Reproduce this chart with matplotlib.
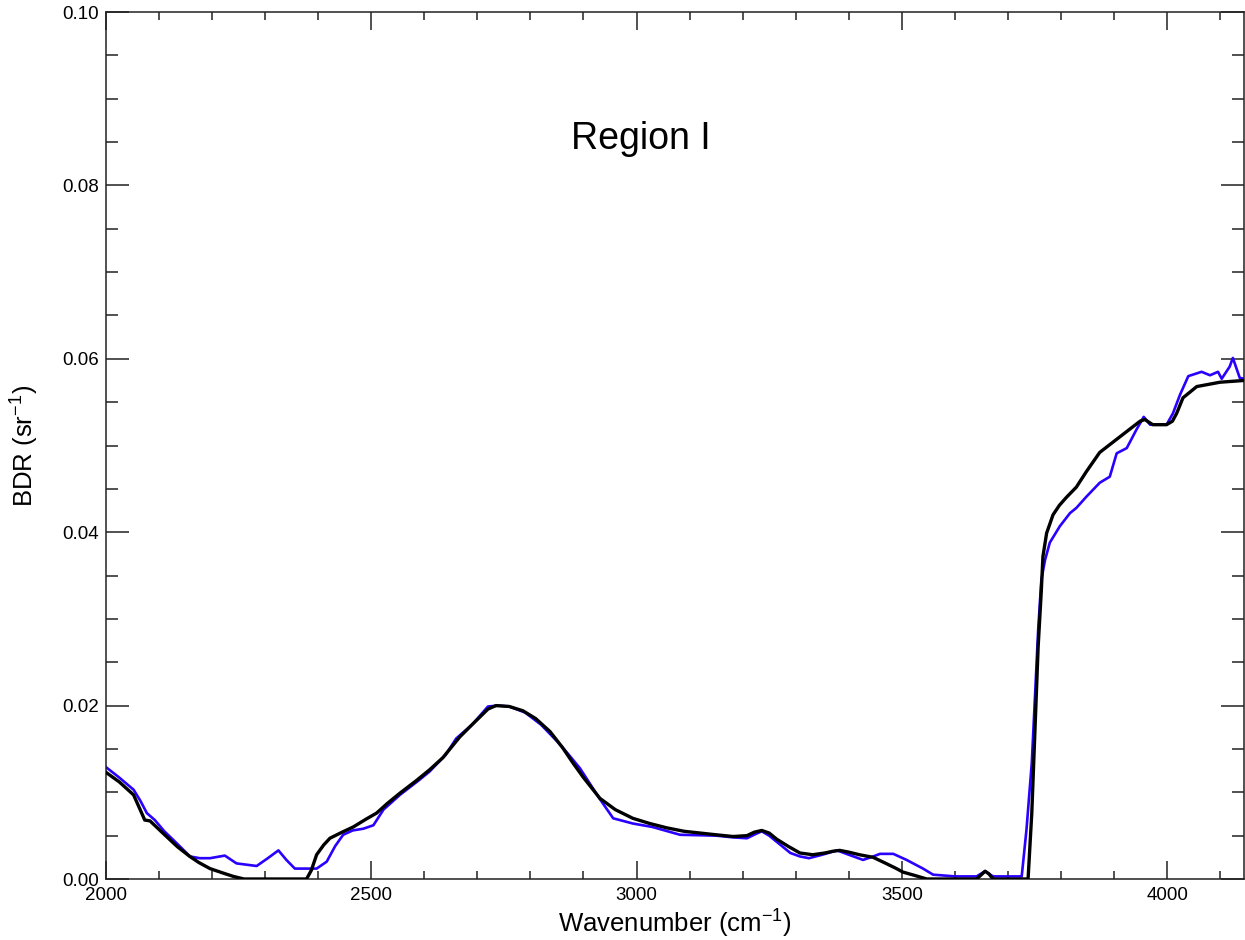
import matplotlib
matplotlib.use('Agg')
import matplotlib.pyplot as plt
from matplotlib.ticker import MultipleLocator, FormatStrFormatter

# model fit (black)
model_wn = [2000, 2025, 2052, 2068, 2073, 2083, 2095, 2114, 2135, 2158, 2175, 2196,
            2220, 2240, 2260, 2300, 2340, 2378, 2387, 2397, 2410, 2422, 2445, 2466,
            2490, 2510, 2530, 2554, 2586, 2610, 2635, 2667, 2690, 2705, 2720, 2735,
            2760, 2786, 2810, 2837, 2860, 2880, 2900, 2931, 2960, 2993, 3025, 3057,
            3090, 3120, 3150, 3182, 3208, 3222, 3236, 3250, 3264, 3285, 3308, 3332,
            3355, 3370, 3383, 3400, 3420, 3446, 3470, 3490, 3502, 3525, 3547, 3600,
            3641, 3650, 3657, 3664, 3672, 3700, 3738, 3745, 3751, 3757, 3763, 3766,
            3773, 3785, 3797, 3810, 3829, 3848, 3873, 3911, 3949, 3958, 3973, 3999,
            4010, 4018, 4030, 4056, 4100, 4145]
model_bdr = [0.0123, 0.0112, 0.0097, 0.0075, 0.0068, 0.0067, 0.0060, 0.0049, 0.0037,
             0.0026, 0.0019, 0.0012, 0.0007, 0.0003, 0.0, 0.0, 0.0, 0.0, 0.0010,
             0.0028, 0.0039, 0.0047, 0.0054, 0.0060, 0.0069, 0.0076, 0.0087, 0.0099,
             0.0114, 0.0126, 0.0140, 0.0164, 0.0178, 0.0187, 0.0196, 0.0200, 0.0199,
             0.0194, 0.0185, 0.0170, 0.0152, 0.0134, 0.0117, 0.0093, 0.0080, 0.0070,
             0.0064, 0.0059, 0.0055, 0.0053, 0.0051, 0.0049, 0.0050, 0.0054, 0.0056,
             0.0053, 0.0046, 0.0038, 0.0030, 0.0028, 0.0030, 0.0032, 0.0033, 0.0031,
             0.0028, 0.0025, 0.0018, 0.0012, 0.0008, 0.0004, 0.0, 0.0, 0.0, 0.0005,
             0.0009, 0.0006, 0.0, 0.0, 0.0, 0.0076, 0.0172, 0.0268, 0.0333, 0.0372,
             0.0399, 0.0420, 0.0431, 0.0440, 0.0452, 0.0470, 0.0492, 0.0510, 0.0528,
             0.0530, 0.0524, 0.0524, 0.0528, 0.0537, 0.0555, 0.0568, 0.0573, 0.0575]

# measured spectrum (blue)
meas_wn = [2000, 2025, 2052, 2065, 2077, 2092, 2110, 2127, 2142, 2158, 2177, 2196,
           2224, 2246, 2284, 2305, 2325, 2340, 2356, 2397, 2416, 2432, 2447, 2465,
           2485, 2504, 2523, 2554, 2590, 2610, 2640, 2660, 2690, 2720, 2740, 2760,
           2790, 2820, 2850, 2870, 2893, 2910, 2930, 2956, 2993, 3030, 3082, 3150,
           3182, 3208, 3225, 3236, 3250, 3270, 3290, 3308, 3325, 3350, 3378, 3400,
           3427, 3446, 3459, 3484, 3509, 3540, 3559, 3600, 3641, 3657, 3672, 3700,
           3726, 3735, 3745, 3751, 3757, 3763, 3770, 3779, 3798, 3817, 3829, 3848,
           3873, 3892, 3905, 3924, 3942, 3956, 3968, 3999, 4011, 4024, 4040, 4065,
           4081, 4096, 4103, 4118, 4124, 4137, 4145]
meas_bdr = [0.0129, 0.0117, 0.0103, 0.0090, 0.0076, 0.0068, 0.0055, 0.0045, 0.0036,
            0.0026, 0.0024, 0.0024, 0.0027, 0.0018, 0.0015, 0.0024, 0.0033, 0.0022,
            0.0012, 0.0012, 0.0020, 0.0038, 0.0051, 0.0056, 0.0058, 0.0062, 0.0080,
            0.0097, 0.0114, 0.0124, 0.0143, 0.0162, 0.0178, 0.0199, 0.0200, 0.0199,
            0.0192, 0.0178, 0.0159, 0.0145, 0.0128, 0.0112, 0.0093, 0.0070, 0.0064,
            0.0060, 0.0051, 0.0050, 0.0048, 0.0047, 0.0052, 0.0055, 0.0050, 0.0040,
            0.0030, 0.0026, 0.0024, 0.0028, 0.0033, 0.0028, 0.0022, 0.0026, 0.0029,
            0.0029, 0.0022, 0.0012, 0.0005, 0.0003, 0.0003, 0.0009, 0.0003, 0.0003,
            0.0003, 0.0057, 0.0134, 0.0210, 0.0287, 0.0345, 0.0368, 0.0388, 0.0407,
            0.0422, 0.0428, 0.0441, 0.0457, 0.0464, 0.0491, 0.0497, 0.0518, 0.0533,
            0.0524, 0.0524, 0.0537, 0.0558, 0.0580, 0.0585, 0.0581, 0.0585, 0.0577,
            0.0591, 0.0601, 0.0578, 0.0577]

plt.rcParams['font.family'] = ['Liberation Sans', 'DejaVu Sans']
plt.rcParams['mathtext.fontset'] = 'custom'
plt.rcParams['mathtext.rm'] = 'Liberation Sans'

fig = plt.figure(figsize=(12.45, 9.4), dpi=100)
ax = fig.add_axes([106 / 1245, 61 / 940, 1138 / 1245, 867 / 940])

ax.plot(meas_wn, meas_bdr, color='#2a00ff', lw=1.9, zorder=2)
ax.plot(model_wn, model_bdr, color='black', lw=2.4, zorder=3)

ax.set_xlim(2000, 4145)
ax.set_ylim(0, 0.10)

ax.xaxis.set_major_locator(MultipleLocator(500))
ax.xaxis.set_minor_locator(MultipleLocator(100))
ax.yaxis.set_major_locator(MultipleLocator(0.02))
ax.yaxis.set_minor_locator(MultipleLocator(0.005))
ax.yaxis.set_major_formatter(FormatStrFormatter('%.2f'))

ax.tick_params(which='both', direction='in', top=True, right=True,
               width=1.1, color='#222222', labelsize=13.5)
ax.tick_params(axis='x', which='major', length=13, pad=5.5)
ax.tick_params(axis='x', which='minor', length=6)
ax.tick_params(axis='y', which='major', length=16.5, pad=5)
ax.tick_params(axis='y', which='minor', length=8.5)
for sp in ax.spines.values():
    sp.set_linewidth(1.1)
    sp.set_color('#222222')

ax.set_xlabel('Wavenumber (cm$^{-1}$)', fontsize=18.5)
ax.set_ylabel('BDR (sr$^{-1}$)', fontsize=18.5)
ax.xaxis.set_label_coords(0.5, -0.031)
ax.yaxis.set_label_coords(-0.058, 0.5)

ax.text(3008, 0.0853, 'Region I', fontsize=27, ha='center', va='center')

fig.savefig('out.png', dpi=100)
